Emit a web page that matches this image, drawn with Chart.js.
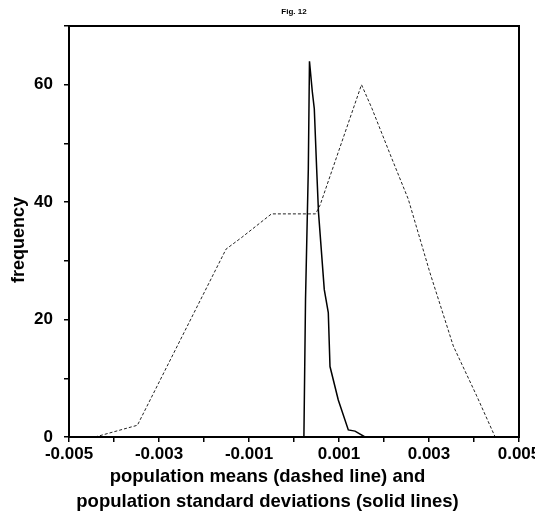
<!DOCTYPE html>
<html>
<head>
<meta charset="utf-8">
<script src="https://cdn.jsdelivr.net/npm/chart.js@4/dist/chart.umd.min.js"></script>
<style>
  html, body { margin: 0; padding: 0; background: #fff; }
  #wrap { width: 535px; height: 520px; }
</style>
</head>
<body>
<div id="wrap"><canvas id="fig12"></canvas></div>
<script>
// population means (dashed line)
const meanX = [-0.00442, -0.00348, -0.00151, -0.00116, -0.0005, 0.00048, 0.00058, 0.0015, 0.00173, 0.00217, 0.00254, 0.00302, 0.00354, 0.00406, 0.00447];
const meanY = [0, 2, 32, 34, 38, 38, 39.5, 60, 56, 47.5, 40.5, 28, 15.5, 7, 0];

// population standard deviations (solid line)
const sdX = [0.00022, 0.000256, 0.000318, 0.000344, 0.000407, 0.000451, 0.000504, 0.000544, 0.000673, 0.000762, 0.0008, 0.000984, 0.001207, 0.001356, 0.001578];
const sdY = [0, 23.4, 45.6, 64, 58.8, 55.9, 45.6, 38.3, 25.1, 21.2, 12, 6.3, 1.2, 1, 0];

// axis ranges, labelled ticks and texts
const xRange = [-0.005, 0.005];
const yRange = [0, 70];
const yLabelled = [0, 20, 40, 60];
const xTitle = ['population means (dashed line) and', 'population standard deviations (solid lines)'];
const yTitle = 'frequency';
const caption = 'Fig. 12';

const tickFont = { family: "'Liberation Sans Narrow', 'Liberation Sans', Arial, sans-serif", size: 17, weight: 'bold' };

function toPoints(xs, ys) {
    return xs.map((x, i) => ({ x: x, y: ys[i] }));
}

// frame round the plot, caption and axis titles (titles centred on the page, as in the scan)
const framePlugin = {
    id: 'frame',
    afterDraw(chart) {
        const { ctx, chartArea: a, width } = chart;
        ctx.save();
        ctx.strokeStyle = '#000';
        ctx.lineWidth = 2;
        ctx.strokeRect(a.left, a.top, a.right - a.left, a.bottom - a.top);

        ctx.fillStyle = '#000';
        ctx.textAlign = 'center';
        ctx.textBaseline = 'middle';
        ctx.font = "bold 8px 'Liberation Sans', Arial, sans-serif";
        ctx.fillText(caption, (a.left + a.right) / 2, 12);

        ctx.font = "bold 18.5px 'Liberation Sans', Arial, sans-serif";
        ctx.fillText(xTitle[0], width / 2, 477);
        ctx.fillText(xTitle[1], width / 2, 502);

        ctx.font = "bold 18px 'Liberation Sans', Arial, sans-serif";
        ctx.translate(19, 240);
        ctx.rotate(-Math.PI / 2);
        ctx.fillText(yTitle, 0, 0);
        ctx.restore();
    }
};

new Chart(document.getElementById('fig12'), {
    type: 'line',
    data: {
        datasets: [
            {
                label: 'population means',
                data: toPoints(meanX, meanY),
                borderColor: '#222',
                borderWidth: 1,
                borderDash: [3, 2],
                pointRadius: 0,
                tension: 0
            },
            {
                label: 'population standard deviations',
                data: toPoints(sdX, sdY),
                borderColor: '#000',
                borderWidth: 1.5,
                pointRadius: 0,
                tension: 0
            }
        ]
    },
    options: {
        responsive: true,
        maintainAspectRatio: false,
        animation: false,
        layout: { padding: { top: 26, right: 16, left: 0, bottom: 0 } },
        plugins: {
            legend: { display: false },
            tooltip: { enabled: false }
        },
        scales: {
            x: {
                type: 'linear',
                min: xRange[0],
                max: xRange[1],
                border: { display: false },
                grid: { drawOnChartArea: false, drawTicks: true, tickLength: 5, color: '#000', lineWidth: 1.5 },
                ticks: {
                    stepSize: 0.001,
                    color: '#000',
                    font: tickFont,
                    padding: 2,
                    maxRotation: 0,
                    autoSkip: false,
                    callback: function(value) {
                        const k = Math.round(value * 1000);
                        if (Math.abs(k) % 2 !== 1) return '';
                        return (k / 1000).toFixed(3);
                    }
                },
                afterFit: function(scale) {
                    scale.height = 83;
                    scale.paddingLeft = 0;
                    scale.paddingRight = 0;
                }
            },
            y: {
                min: yRange[0],
                max: yRange[1],
                border: { display: false },
                grid: { drawOnChartArea: false, drawTicks: true, tickLength: 5, color: '#000', lineWidth: 1.5 },
                ticks: {
                    stepSize: 10,
                    color: '#000',
                    font: tickFont,
                    padding: 11,
                    callback: function(value) {
                        return yLabelled.includes(value) ? String(value) : '';
                    }
                },
                afterFit: function(scale) {
                    scale.width = 69;
                    scale.paddingTop = 0;
                    scale.paddingBottom = 0;
                }
            }
        }
    },
    plugins: [framePlugin]
});
</script>
</body>
</html>
